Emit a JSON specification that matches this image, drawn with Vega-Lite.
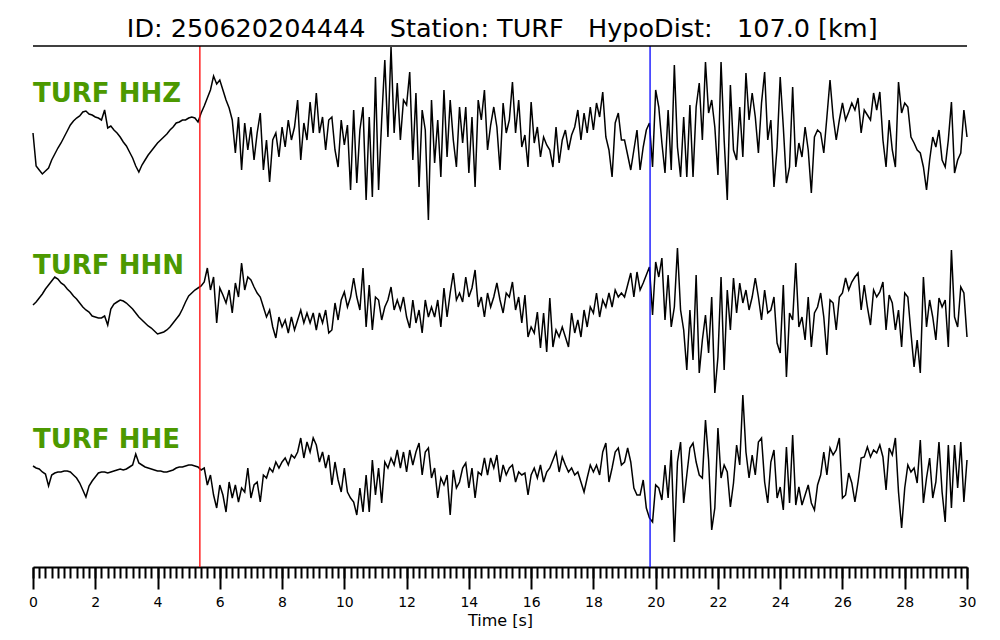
{
"$schema":"https://vega.github.io/schema/vega-lite/v6.json",
"padding":{"left":28,"right":0,"top":16,"bottom":0},
"bounds":"flush",
"spacing":0,
"title":{"text":"ID: 250620204444\u00a0\u00a0\u00a0Station: TURF\u00a0\u00a0\u00a0HypoDist:\u00a0\u00a0\u00a0107.0 [km]","fontSize":25.5,"font":"DejaVu Sans","fontWeight":"normal","color":"black","anchor":"middle","offset":2},
"datasets":{
"picks":[{"t":5.36,"p":"P"},{"t":19.82,"p":"S"}],
"Z":[{"t":0,"a":0},{"t":0.1,"a":-33},{"t":0.2,"a":-37},{"t":0.3,"a":-41},{"t":0.4,"a":-38},{"t":0.5,"a":-35},{"t":0.6,"a":-27},{"t":0.7,"a":-21},{"t":0.8,"a":-15},{"t":0.9,"a":-10},
{"t":1,"a":-4},{"t":1.1,"a":2},{"t":1.2,"a":8},{"t":1.3,"a":12},{"t":1.4,"a":15},{"t":1.5,"a":17},{"t":1.6,"a":21},{"t":1.7,"a":22},{"t":1.8,"a":19},{"t":1.9,"a":18},
{"t":2,"a":16},{"t":2.1,"a":15},{"t":2.2,"a":13},{"t":2.3,"a":23},{"t":2.4,"a":5},{"t":2.5,"a":7},{"t":2.6,"a":3},{"t":2.7,"a":0},{"t":2.8,"a":-4},{"t":2.9,"a":-9},
{"t":3,"a":-13},{"t":3.1,"a":-19},{"t":3.2,"a":-25},{"t":3.3,"a":-33},{"t":3.4,"a":-39},{"t":3.5,"a":-32},{"t":3.6,"a":-27},{"t":3.7,"a":-22},{"t":3.8,"a":-18},{"t":3.9,"a":-14},
{"t":4,"a":-10},{"t":4.1,"a":-7},{"t":4.2,"a":-4},{"t":4.3,"a":-1},{"t":4.4,"a":3},{"t":4.5,"a":6},{"t":4.6,"a":10},{"t":4.7,"a":11},{"t":4.8,"a":13},{"t":4.9,"a":13},
{"t":5,"a":15},{"t":5.1,"a":16},{"t":5.2,"a":15},{"t":5.3,"a":11},{"t":5.4,"a":20},{"t":5.5,"a":27},{"t":5.6,"a":35},{"t":5.7,"a":43},{"t":5.8,"a":57},{"t":5.9,"a":49},
{"t":6,"a":53},{"t":6.1,"a":43},{"t":6.2,"a":33},{"t":6.3,"a":25},{"t":6.4,"a":13},{"t":6.5,"a":-20},{"t":6.6,"a":16},{"t":6.7,"a":-37},{"t":6.8,"a":10},{"t":6.9,"a":-17},
{"t":7,"a":6},{"t":7.1,"a":-27},{"t":7.2,"a":0},{"t":7.3,"a":20},{"t":7.4,"a":-37},{"t":7.5,"a":-7},{"t":7.6,"a":-49},{"t":7.7,"a":-7},{"t":7.8,"a":0},{"t":7.9,"a":-24},
{"t":8,"a":6},{"t":8.1,"a":-14},{"t":8.2,"a":13},{"t":8.3,"a":-7},{"t":8.4,"a":6},{"t":8.5,"a":33},{"t":8.6,"a":-27},{"t":8.7,"a":10},{"t":8.8,"a":-7},{"t":8.9,"a":31},
{"t":9,"a":0},{"t":9.1,"a":40},{"t":9.2,"a":0},{"t":9.3,"a":16},{"t":9.4,"a":-17},{"t":9.5,"a":13},{"t":9.6,"a":16},{"t":9.7,"a":-17},{"t":9.8,"a":-34},{"t":9.9,"a":13},
{"t":10,"a":-12},{"t":10.1,"a":8},{"t":10.2,"a":-57},{"t":10.3,"a":23},{"t":10.4,"a":-50},{"t":10.5,"a":3},{"t":10.6,"a":26},{"t":10.7,"a":-67},{"t":10.8,"a":16},{"t":10.9,"a":-64},
{"t":11,"a":56},{"t":11.1,"a":-57},{"t":11.2,"a":13},{"t":11.3,"a":73},{"t":11.4,"a":-4},{"t":11.5,"a":86},{"t":11.6,"a":0},{"t":11.7,"a":50},{"t":11.8,"a":-7},{"t":11.9,"a":33},
{"t":12,"a":28},{"t":12.1,"a":61},{"t":12.2,"a":-27},{"t":12.3,"a":40},{"t":12.4,"a":-54},{"t":12.5,"a":23},{"t":12.6,"a":3},{"t":12.7,"a":-87},{"t":12.8,"a":33},{"t":12.9,"a":-30},
{"t":13,"a":13},{"t":13.1,"a":-44},{"t":13.2,"a":43},{"t":13.3,"a":-24},{"t":13.4,"a":33},{"t":13.5,"a":-7},{"t":13.6,"a":-34},{"t":13.7,"a":26},{"t":13.8,"a":-10},{"t":13.9,"a":26},
{"t":14,"a":-40},{"t":14.1,"a":16},{"t":14.2,"a":-54},{"t":14.3,"a":33},{"t":14.4,"a":13},{"t":14.5,"a":43},{"t":14.6,"a":-17},{"t":14.7,"a":8},{"t":14.8,"a":26},{"t":14.9,"a":6},
{"t":15,"a":-37},{"t":15.1,"a":30},{"t":15.2,"a":0},{"t":15.3,"a":13},{"t":15.4,"a":51},{"t":15.5,"a":0},{"t":15.6,"a":33},{"t":15.7,"a":-14},{"t":15.8,"a":-2},{"t":15.9,"a":-34},
{"t":16,"a":31},{"t":16.1,"a":-10},{"t":16.2,"a":6},{"t":16.3,"a":-24},{"t":16.4,"a":-4},{"t":16.5,"a":-12},{"t":16.6,"a":-17},{"t":16.7,"a":-34},{"t":16.8,"a":6},{"t":16.9,"a":-30},
{"t":17,"a":-7},{"t":17.1,"a":3},{"t":17.2,"a":-17},{"t":17.3,"a":-2},{"t":17.4,"a":6},{"t":17.5,"a":23},{"t":17.6,"a":-7},{"t":17.7,"a":20},{"t":17.8,"a":0},{"t":17.9,"a":26},
{"t":18,"a":3},{"t":18.1,"a":30},{"t":18.2,"a":16},{"t":18.3,"a":41},{"t":18.4,"a":-4},{"t":18.5,"a":-17},{"t":18.6,"a":-44},{"t":18.7,"a":10},{"t":18.8,"a":20},{"t":18.9,"a":-7},
{"t":19,"a":-7},{"t":19.1,"a":-22},{"t":19.2,"a":-37},{"t":19.3,"a":-17},{"t":19.4,"a":3},{"t":19.5,"a":-37},{"t":19.6,"a":-14},{"t":19.7,"a":3},{"t":19.8,"a":10},{"t":19.9,"a":-34},
{"t":20,"a":43},{"t":20.1,"a":26},{"t":20.2,"a":-10},{"t":20.3,"a":-40},{"t":20.4,"a":23},{"t":20.5,"a":-37},{"t":20.6,"a":68},{"t":20.7,"a":-14},{"t":20.8,"a":-44},{"t":20.9,"a":16},
{"t":21,"a":-44},{"t":21.1,"a":28},{"t":21.2,"a":-44},{"t":21.3,"a":26},{"t":21.4,"a":50},{"t":21.5,"a":-7},{"t":21.6,"a":71},{"t":21.7,"a":20},{"t":21.8,"a":33},{"t":21.9,"a":6},
{"t":22,"a":-42},{"t":22.1,"a":71},{"t":22.2,"a":-7},{"t":22.3,"a":-67},{"t":22.4,"a":48},{"t":22.5,"a":-17},{"t":22.6,"a":-27},{"t":22.7,"a":26},{"t":22.8,"a":-24},{"t":22.9,"a":60},
{"t":23,"a":13},{"t":23.1,"a":40},{"t":23.2,"a":16},{"t":23.3,"a":-20},{"t":23.4,"a":30},{"t":23.5,"a":61},{"t":23.6,"a":-7},{"t":23.7,"a":13},{"t":23.8,"a":-54},{"t":23.9,"a":-14},
{"t":24,"a":56},{"t":24.1,"a":6},{"t":24.2,"a":-50},{"t":24.3,"a":-34},{"t":24.4,"a":46},{"t":24.5,"a":-34},{"t":24.6,"a":-10},{"t":24.7,"a":-24},{"t":24.8,"a":6},{"t":24.9,"a":-17},
{"t":25,"a":-60},{"t":25.1,"a":-4},{"t":25.2,"a":3},{"t":25.3,"a":0},{"t":25.4,"a":-20},{"t":25.5,"a":16},{"t":25.6,"a":53},{"t":25.7,"a":16},{"t":25.8,"a":-7},{"t":25.9,"a":13},
{"t":26,"a":30},{"t":26.1,"a":13},{"t":26.2,"a":21},{"t":26.3,"a":30},{"t":26.4,"a":23},{"t":26.5,"a":35},{"t":26.6,"a":0},{"t":26.7,"a":23},{"t":26.8,"a":18},{"t":26.9,"a":13},
{"t":27,"a":40},{"t":27.1,"a":23},{"t":27.2,"a":41},{"t":27.3,"a":-7},{"t":27.4,"a":-34},{"t":27.5,"a":13},{"t":27.6,"a":-17},{"t":27.7,"a":-34},{"t":27.8,"a":51},{"t":27.9,"a":20},
{"t":28,"a":30},{"t":28.1,"a":26},{"t":28.2,"a":-4},{"t":28.3,"a":-10},{"t":28.4,"a":-17},{"t":28.5,"a":-20},{"t":28.6,"a":-34},{"t":28.7,"a":-57},{"t":28.8,"a":-27},{"t":28.9,"a":-4},
{"t":29,"a":-14},{"t":29.1,"a":3},{"t":29.2,"a":-27},{"t":29.3,"a":-34},{"t":29.4,"a":-7},{"t":29.5,"a":31},{"t":29.6,"a":-40},{"t":29.7,"a":-27},{"t":29.8,"a":-20},{"t":29.9,"a":23},
{"t":30,"a":-4}],
"N":[{"t":0,"a":2},{"t":0.1,"a":5},{"t":0.2,"a":9},{"t":0.3,"a":13},{"t":0.4,"a":18},{"t":0.5,"a":22},{"t":0.6,"a":26},{"t":0.7,"a":30},{"t":0.8,"a":28},{"t":0.9,"a":24},
{"t":1,"a":22},{"t":1.1,"a":18},{"t":1.2,"a":15},{"t":1.3,"a":11},{"t":1.4,"a":8},{"t":1.5,"a":4},{"t":1.6,"a":0},{"t":1.7,"a":-3},{"t":1.8,"a":-5},{"t":1.9,"a":-9},
{"t":2,"a":-10},{"t":2.1,"a":-11},{"t":2.2,"a":-11},{"t":2.3,"a":-9},{"t":2.4,"a":-18},{"t":2.5,"a":-2},{"t":2.6,"a":3},{"t":2.7,"a":5},{"t":2.8,"a":7},{"t":2.9,"a":6},
{"t":3,"a":4},{"t":3.1,"a":1},{"t":3.2,"a":-2},{"t":3.3,"a":-6},{"t":3.4,"a":-10},{"t":3.5,"a":-13},{"t":3.6,"a":-16},{"t":3.7,"a":-19},{"t":3.8,"a":-21},{"t":3.9,"a":-24},
{"t":4,"a":-27},{"t":4.1,"a":-26},{"t":4.2,"a":-25},{"t":4.3,"a":-23},{"t":4.4,"a":-20},{"t":4.5,"a":-16},{"t":4.6,"a":-12},{"t":4.7,"a":-8},{"t":4.8,"a":-2},{"t":4.9,"a":5},
{"t":5,"a":11},{"t":5.1,"a":14},{"t":5.2,"a":17},{"t":5.3,"a":19},{"t":5.4,"a":21},{"t":5.5,"a":25},{"t":5.6,"a":39},{"t":5.7,"a":17},{"t":5.8,"a":30},{"t":5.9,"a":-16},
{"t":6,"a":19},{"t":6.1,"a":12},{"t":6.2,"a":4},{"t":6.3,"a":17},{"t":6.4,"a":-6},{"t":6.5,"a":24},{"t":6.6,"a":10},{"t":6.7,"a":44},{"t":6.8,"a":17},{"t":6.9,"a":30},
{"t":7,"a":27},{"t":7.1,"a":20},{"t":7.2,"a":14},{"t":7.3,"a":10},{"t":7.4,"a":0},{"t":7.5,"a":-10},{"t":7.6,"a":-3},{"t":7.7,"a":-20},{"t":7.8,"a":-31},{"t":7.9,"a":-10},
{"t":8,"a":-20},{"t":8.1,"a":-13},{"t":8.2,"a":-26},{"t":8.3,"a":-10},{"t":8.4,"a":-23},{"t":8.5,"a":-13},{"t":8.6,"a":-3},{"t":8.7,"a":-16},{"t":8.8,"a":-6},{"t":8.9,"a":-16},
{"t":9,"a":-6},{"t":9.1,"a":-23},{"t":9.2,"a":-6},{"t":9.3,"a":-16},{"t":9.4,"a":-3},{"t":9.5,"a":-26},{"t":9.6,"a":-23},{"t":9.7,"a":4},{"t":9.8,"a":-13},{"t":9.9,"a":7},
{"t":10,"a":15},{"t":10.1,"a":0},{"t":10.2,"a":10},{"t":10.3,"a":29},{"t":10.4,"a":10},{"t":10.5,"a":-3},{"t":10.6,"a":39},{"t":10.7,"a":-20},{"t":10.8,"a":22},{"t":10.9,"a":-23},
{"t":11,"a":10},{"t":11.1,"a":7},{"t":11.2,"a":-13},{"t":11.3,"a":0},{"t":11.4,"a":7},{"t":11.5,"a":20},{"t":11.6,"a":-3},{"t":11.7,"a":7},{"t":11.8,"a":-3},{"t":11.9,"a":10},
{"t":12,"a":-10},{"t":12.1,"a":-21},{"t":12.2,"a":7},{"t":12.3,"a":-16},{"t":12.4,"a":-3},{"t":12.5,"a":-26},{"t":12.6,"a":7},{"t":12.7,"a":-10},{"t":12.8,"a":0},{"t":12.9,"a":-10},
{"t":13,"a":7},{"t":13.1,"a":-20},{"t":13.2,"a":19},{"t":13.3,"a":-10},{"t":13.4,"a":14},{"t":13.5,"a":34},{"t":13.6,"a":7},{"t":13.7,"a":14},{"t":13.8,"a":5},{"t":13.9,"a":30},
{"t":14,"a":10},{"t":14.1,"a":19},{"t":14.2,"a":37},{"t":14.3,"a":0},{"t":14.4,"a":10},{"t":14.5,"a":-10},{"t":14.6,"a":14},{"t":14.7,"a":0},{"t":14.8,"a":10},{"t":14.9,"a":24},
{"t":15,"a":7},{"t":15.1,"a":-6},{"t":15.2,"a":14},{"t":15.3,"a":10},{"t":15.4,"a":25},{"t":15.5,"a":-3},{"t":15.6,"a":10},{"t":15.7,"a":-16},{"t":15.8,"a":12},{"t":15.9,"a":-30},
{"t":16,"a":-20},{"t":16.1,"a":-26},{"t":16.2,"a":-5},{"t":16.3,"a":-41},{"t":16.4,"a":-6},{"t":16.5,"a":-45},{"t":16.6,"a":9},{"t":16.7,"a":-40},{"t":16.8,"a":-23},{"t":16.9,"a":-30},
{"t":17,"a":-20},{"t":17.1,"a":-30},{"t":17.2,"a":-40},{"t":17.3,"a":-6},{"t":17.4,"a":-26},{"t":17.5,"a":-13},{"t":17.6,"a":-30},{"t":17.7,"a":-3},{"t":17.8,"a":-20},{"t":17.9,"a":0},
{"t":18,"a":-6},{"t":18.1,"a":14},{"t":18.2,"a":-10},{"t":18.3,"a":7},{"t":18.4,"a":0},{"t":18.5,"a":14},{"t":18.6,"a":0},{"t":18.7,"a":17},{"t":18.8,"a":10},{"t":18.9,"a":14},
{"t":19,"a":10},{"t":19.1,"a":22},{"t":19.2,"a":34},{"t":19.3,"a":10},{"t":19.4,"a":35},{"t":19.5,"a":17},{"t":19.6,"a":24},{"t":19.7,"a":32},{"t":19.8,"a":40},{"t":19.9,"a":-8},
{"t":20,"a":45},{"t":20.1,"a":30},{"t":20.2,"a":49},{"t":20.3,"a":-13},{"t":20.4,"a":32},{"t":20.5,"a":-20},{"t":20.6,"a":0},{"t":20.7,"a":59},{"t":20.8,"a":-3},{"t":20.9,"a":-23},
{"t":21,"a":-63},{"t":21.1,"a":-3},{"t":21.2,"a":-53},{"t":21.3,"a":32},{"t":21.4,"a":-66},{"t":21.5,"a":-33},{"t":21.6,"a":-8},{"t":21.7,"a":-46},{"t":21.8,"a":10},{"t":21.9,"a":-86},
{"t":22,"a":-50},{"t":22.1,"a":30},{"t":22.2,"a":-63},{"t":22.3,"a":17},{"t":22.4,"a":-23},{"t":22.5,"a":29},{"t":22.6,"a":-6},{"t":22.7,"a":24},{"t":22.8,"a":4},{"t":22.9,"a":17},
{"t":23,"a":-3},{"t":23.1,"a":10},{"t":23.2,"a":29},{"t":23.3,"a":10},{"t":23.4,"a":-13},{"t":23.5,"a":17},{"t":23.6,"a":-6},{"t":23.7,"a":-3},{"t":23.8,"a":10},{"t":23.9,"a":-36},
{"t":24,"a":-46},{"t":24.1,"a":22},{"t":24.2,"a":-70},{"t":24.3,"a":-6},{"t":24.4,"a":-13},{"t":24.5,"a":44},{"t":24.6,"a":-20},{"t":24.7,"a":-10},{"t":24.8,"a":-33},{"t":24.9,"a":10},
{"t":25,"a":-40},{"t":25.1,"a":-6},{"t":25.2,"a":0},{"t":25.3,"a":14},{"t":25.4,"a":-10},{"t":25.5,"a":-48},{"t":25.6,"a":7},{"t":25.7,"a":4},{"t":25.8,"a":-23},{"t":25.9,"a":10},
{"t":26,"a":14},{"t":26.1,"a":29},{"t":26.2,"a":17},{"t":26.3,"a":25},{"t":26.4,"a":30},{"t":26.5,"a":34},{"t":26.6,"a":-3},{"t":26.7,"a":22},{"t":26.8,"a":0},{"t":26.9,"a":-18},
{"t":27,"a":17},{"t":27.1,"a":10},{"t":27.2,"a":15},{"t":27.3,"a":25},{"t":27.4,"a":-23},{"t":27.5,"a":12},{"t":27.6,"a":4},{"t":27.7,"a":-23},{"t":27.8,"a":-3},{"t":27.9,"a":-40},
{"t":28,"a":14},{"t":28.1,"a":10},{"t":28.2,"a":-26},{"t":28.3,"a":-60},{"t":28.4,"a":-33},{"t":28.5,"a":-66},{"t":28.6,"a":30},{"t":28.7,"a":-20},{"t":28.8,"a":7},{"t":28.9,"a":-10},
{"t":29,"a":-33},{"t":29.1,"a":9},{"t":29.2,"a":0},{"t":29.3,"a":7},{"t":29.4,"a":-40},{"t":29.5,"a":57},{"t":29.6,"a":-10},{"t":29.7,"a":-20},{"t":29.8,"a":20},{"t":29.9,"a":14},
{"t":30,"a":-30}],
"E":[{"t":0,"a":14},{"t":0.1,"a":12},{"t":0.2,"a":11},{"t":0.3,"a":8},{"t":0.4,"a":6},{"t":0.5,"a":-6},{"t":0.6,"a":5},{"t":0.7,"a":7},{"t":0.8,"a":8},{"t":0.9,"a":8},
{"t":1,"a":9},{"t":1.1,"a":9},{"t":1.2,"a":8},{"t":1.3,"a":5},{"t":1.4,"a":2},{"t":1.5,"a":-3},{"t":1.6,"a":-10},{"t":1.7,"a":-17},{"t":1.8,"a":-6},{"t":1.9,"a":-1},
{"t":2,"a":3},{"t":2.1,"a":7},{"t":2.2,"a":8},{"t":2.3,"a":8},{"t":2.4,"a":7},{"t":2.5,"a":8},{"t":2.6,"a":9},{"t":2.7,"a":10},{"t":2.8,"a":11},{"t":2.9,"a":10},
{"t":3,"a":11},{"t":3.1,"a":13},{"t":3.2,"a":15},{"t":3.3,"a":26},{"t":3.4,"a":17},{"t":3.5,"a":15},{"t":3.6,"a":13},{"t":3.7,"a":12},{"t":3.8,"a":11},{"t":3.9,"a":10},
{"t":4,"a":9},{"t":4.1,"a":9},{"t":4.2,"a":8},{"t":4.3,"a":8},{"t":4.4,"a":9},{"t":4.5,"a":10},{"t":4.6,"a":12},{"t":4.7,"a":13},{"t":4.8,"a":13},{"t":4.9,"a":14},
{"t":5,"a":15},{"t":5.1,"a":15},{"t":5.2,"a":14},{"t":5.3,"a":13},{"t":5.4,"a":10},{"t":5.5,"a":12},{"t":5.6,"a":-5},{"t":5.7,"a":5},{"t":5.8,"a":-15},{"t":5.9,"a":-28},
{"t":6,"a":-5},{"t":6.1,"a":-15},{"t":6.2,"a":-32},{"t":6.3,"a":-2},{"t":6.4,"a":-18},{"t":6.5,"a":-5},{"t":6.6,"a":-22},{"t":6.7,"a":-8},{"t":6.8,"a":-12},{"t":6.9,"a":12},
{"t":7,"a":-18},{"t":7.1,"a":-5},{"t":7.2,"a":-2},{"t":7.3,"a":-22},{"t":7.4,"a":5},{"t":7.5,"a":2},{"t":7.6,"a":12},{"t":7.7,"a":8},{"t":7.8,"a":18},{"t":7.9,"a":12},
{"t":8,"a":18},{"t":8.1,"a":22},{"t":8.2,"a":15},{"t":8.3,"a":25},{"t":8.4,"a":22},{"t":8.5,"a":28},{"t":8.6,"a":42},{"t":8.7,"a":22},{"t":8.8,"a":38},{"t":8.9,"a":28},
{"t":9,"a":42},{"t":9.1,"a":35},{"t":9.2,"a":18},{"t":9.3,"a":28},{"t":9.4,"a":12},{"t":9.5,"a":25},{"t":9.6,"a":-5},{"t":9.7,"a":18},{"t":9.8,"a":0},{"t":9.9,"a":-12},
{"t":10,"a":12},{"t":10.1,"a":-12},{"t":10.2,"a":-18},{"t":10.3,"a":-22},{"t":10.4,"a":-35},{"t":10.5,"a":-8},{"t":10.6,"a":-32},{"t":10.7,"a":5},{"t":10.8,"a":-32},{"t":10.9,"a":20},
{"t":11,"a":-15},{"t":11.1,"a":12},{"t":11.2,"a":-23},{"t":11.3,"a":18},{"t":11.4,"a":12},{"t":11.5,"a":22},{"t":11.6,"a":15},{"t":11.7,"a":30},{"t":11.8,"a":12},{"t":11.9,"a":28},
{"t":12,"a":8},{"t":12.1,"a":30},{"t":12.2,"a":15},{"t":12.3,"a":28},{"t":12.4,"a":37},{"t":12.5,"a":5},{"t":12.6,"a":28},{"t":12.7,"a":32},{"t":12.8,"a":2},{"t":12.9,"a":12},
{"t":13,"a":-18},{"t":13.1,"a":2},{"t":13.2,"a":-5},{"t":13.3,"a":5},{"t":13.4,"a":-35},{"t":13.5,"a":10},{"t":13.6,"a":-8},{"t":13.7,"a":-2},{"t":13.8,"a":12},{"t":13.9,"a":17},
{"t":14,"a":-8},{"t":14.1,"a":12},{"t":14.2,"a":-18},{"t":14.3,"a":8},{"t":14.4,"a":5},{"t":14.5,"a":22},{"t":14.6,"a":5},{"t":14.7,"a":22},{"t":14.8,"a":12},{"t":14.9,"a":25},
{"t":15,"a":-2},{"t":15.1,"a":15},{"t":15.2,"a":5},{"t":15.3,"a":12},{"t":15.4,"a":15},{"t":15.5,"a":-2},{"t":15.6,"a":8},{"t":15.7,"a":5},{"t":15.8,"a":7},{"t":15.9,"a":-15},
{"t":16,"a":5},{"t":16.1,"a":12},{"t":16.2,"a":2},{"t":16.3,"a":15},{"t":16.4,"a":-2},{"t":16.5,"a":8},{"t":16.6,"a":12},{"t":16.7,"a":20},{"t":16.8,"a":28},{"t":16.9,"a":8},
{"t":17,"a":23},{"t":17.1,"a":15},{"t":17.2,"a":8},{"t":17.3,"a":12},{"t":17.4,"a":5},{"t":17.5,"a":8},{"t":17.6,"a":-2},{"t":17.7,"a":-12},{"t":17.8,"a":2},{"t":17.9,"a":15},
{"t":18,"a":8},{"t":18.1,"a":15},{"t":18.2,"a":5},{"t":18.3,"a":28},{"t":18.4,"a":37},{"t":18.5,"a":-2},{"t":18.6,"a":12},{"t":18.7,"a":28},{"t":18.8,"a":32},{"t":18.9,"a":15},
{"t":19,"a":18},{"t":19.1,"a":32},{"t":19.2,"a":18},{"t":19.3,"a":-8},{"t":19.4,"a":-15},{"t":19.5,"a":-15},{"t":19.6,"a":0},{"t":19.7,"a":-28},{"t":19.8,"a":-38},{"t":19.9,"a":-42},
{"t":20,"a":-5},{"t":20.1,"a":-8},{"t":20.2,"a":-20},{"t":20.3,"a":15},{"t":20.4,"a":-18},{"t":20.5,"a":30},{"t":20.6,"a":-62},{"t":20.7,"a":18},{"t":20.8,"a":38},{"t":20.9,"a":-23},
{"t":21,"a":5},{"t":21.1,"a":32},{"t":21.2,"a":37},{"t":21.3,"a":18},{"t":21.4,"a":5},{"t":21.5,"a":2},{"t":21.6,"a":60},{"t":21.7,"a":20},{"t":21.8,"a":-50},{"t":21.9,"a":-28},
{"t":22,"a":52},{"t":22.1,"a":2},{"t":22.2,"a":15},{"t":22.3,"a":8},{"t":22.4,"a":-27},{"t":22.5,"a":-3},{"t":22.6,"a":35},{"t":22.7,"a":15},{"t":22.8,"a":85},{"t":22.9,"a":28},
{"t":23,"a":2},{"t":23.1,"a":25},{"t":23.2,"a":5},{"t":23.3,"a":38},{"t":23.4,"a":42},{"t":23.5,"a":-2},{"t":23.6,"a":-23},{"t":23.7,"a":18},{"t":23.8,"a":30},{"t":23.9,"a":-18},
{"t":24,"a":-7},{"t":24.1,"a":-30},{"t":24.2,"a":33},{"t":24.3,"a":-23},{"t":24.4,"a":45},{"t":24.5,"a":-25},{"t":24.6,"a":-7},{"t":24.7,"a":-25},{"t":24.8,"a":-15},{"t":24.9,"a":-5},
{"t":25,"a":-23},{"t":25.1,"a":-30},{"t":25.2,"a":-5},{"t":25.3,"a":5},{"t":25.4,"a":28},{"t":25.5,"a":5},{"t":25.6,"a":32},{"t":25.7,"a":25},{"t":25.8,"a":30},{"t":25.9,"a":42},
{"t":26,"a":-18},{"t":26.1,"a":-15},{"t":26.2,"a":7},{"t":26.3,"a":-3},{"t":26.4,"a":-22},{"t":26.5,"a":-2},{"t":26.6,"a":22},{"t":26.7,"a":23},{"t":26.8,"a":33},{"t":26.9,"a":23},
{"t":27,"a":30},{"t":27.1,"a":27},{"t":27.2,"a":35},{"t":27.3,"a":23},{"t":27.4,"a":-10},{"t":27.5,"a":32},{"t":27.6,"a":25},{"t":27.7,"a":42},{"t":27.8,"a":-12},{"t":27.9,"a":-48},
{"t":28,"a":-8},{"t":28.1,"a":15},{"t":28.2,"a":8},{"t":28.3,"a":12},{"t":28.4,"a":-3},{"t":28.5,"a":40},{"t":28.6,"a":-23},{"t":28.7,"a":2},{"t":28.8,"a":22},{"t":28.9,"a":-18},
{"t":29,"a":-2},{"t":29.1,"a":38},{"t":29.2,"a":-12},{"t":29.3,"a":-42},{"t":29.4,"a":35},{"t":29.5,"a":-28},{"t":29.6,"a":35},{"t":29.7,"a":-8},{"t":29.8,"a":38},{"t":29.9,"a":-22},
{"t":30,"a":20}]
},
"vconcat":[
{"width":934,"height":174,
"layer":[
{"data":{"name":"Z"},"mark":{"type":"line","color":"black","strokeWidth":1.5},
"encoding":{"x":{"field":"t","type":"quantitative","scale":{"domain":[0,30],"nice":false,"zero":false},"axis":null},
"y":{"field":"a","type":"quantitative","scale":{"domain":[-87,87],"nice":false,"zero":false},"axis":null}}},
{"data":{"name":"picks"},"mark":{"type":"rule","strokeWidth":1.3},
"encoding":{"x":{"field":"t","type":"quantitative","axis":null},"color":{"field":"p","type":"nominal","scale":{"domain":["P","S"],"range":["#ff0000","#0000ff"]},"legend":null}}},
{"data":{"values":[{"edge":"top"}]},"mark":{"type":"rule","color":"black","strokeWidth":1.5},
"encoding":{"y":{"datum":87,"type":"quantitative","axis":null}}},
{"data":{"values":[{"label":"TURF HHZ"}]},"mark":{"type":"text","align":"left","baseline":"alphabetic","font":"DejaVu Sans","fontWeight":"bold","fontSize":26,"color":"#4c9900"},
"encoding":{"x":{"datum":0,"type":"quantitative","axis":null},"y":{"datum":31,"type":"quantitative","axis":null},"text":{"field":"label"}}}
]},
{"width":934,"height":173,
"layer":[
{"data":{"name":"N"},"mark":{"type":"line","color":"black","strokeWidth":1.5},
"encoding":{"x":{"field":"t","type":"quantitative","scale":{"domain":[0,30],"nice":false,"zero":false},"axis":null},
"y":{"field":"a","type":"quantitative","scale":{"domain":[-86,87],"nice":false,"zero":false},"axis":null}}},
{"data":{"name":"picks"},"mark":{"type":"rule","strokeWidth":1.3},
"encoding":{"x":{"field":"t","type":"quantitative","axis":null},"color":{"field":"p","type":"nominal","scale":{"domain":["P","S"],"range":["#ff0000","#0000ff"]},"legend":null}}},
{"data":{"values":[{"label":"TURF HHN"}]},"mark":{"type":"text","align":"left","baseline":"alphabetic","font":"DejaVu Sans","fontWeight":"bold","fontSize":26,"color":"#4c9900"},
"encoding":{"x":{"datum":0,"type":"quantitative","axis":null},"y":{"datum":33,"type":"quantitative","axis":null},"text":{"field":"label"}}}
]},
{"width":934,"height":174,
"resolve":{"axis":{"x":"independent"}},
"layer":[
{"data":{"name":"E"},"mark":{"type":"line","color":"black","strokeWidth":1.5},
"encoding":{"x":{"field":"t","type":"quantitative","scale":{"domain":[0,30],"nice":false,"zero":false},
"axis":{"orient":"bottom","values":[0,2,4,6,8,10,12,14,16,18,20,22,24,26,28,30],"format":"d","tickSize":22,"tickWidth":2,"tickColor":"black","domainColor":"black","domainWidth":2,"grid":false,"labelFont":"DejaVu Sans","labelFontSize":14,"labelColor":"black","labelPadding":6,"labelFlush":false,"labelOverlap":false,"title":"Time [s]","titleFont":"DejaVu Sans","titleFontSize":16,"titleFontWeight":"normal","titleColor":"black","titlePadding":3}},
"y":{"field":"a","type":"quantitative","scale":{"domain":[-87,87],"nice":false,"zero":false},"axis":null}}},
{"data":{"name":"picks"},"mark":{"type":"rule","strokeWidth":1.3},
"encoding":{"x":{"field":"t","type":"quantitative","axis":{"orient":"bottom","values":[0,0.2,0.4,0.6,0.8,1,1.2,1.4,1.6,1.8,2,2.2,2.4,2.6,2.8,3,3.2,3.4,3.6,3.8,4,4.2,4.4,4.6,4.8,5,5.2,5.4,5.6,5.8,6,6.2,6.4,6.6,6.8,7,7.2,7.4,7.6,7.8,8,8.2,8.4,8.6,8.8,9,9.2,9.4,9.6,9.8,10,10.2,10.4,10.6,10.8,11,11.2,11.4,11.6,11.8,12,12.2,12.4,12.6,12.8,13,13.2,13.4,13.6,13.8,14,14.2,14.4,14.6,14.8,15,15.2,15.4,15.6,15.8,16,16.2,16.4,16.6,16.8,17,17.2,17.4,17.6,17.8,18,18.2,18.4,18.6,18.8,19,19.2,19.4,19.6,19.8,20,20.2,20.4,20.6,20.8,21,21.2,21.4,21.6,21.8,22,22.2,22.4,22.6,22.8,23,23.2,23.4,23.6,23.8,24,24.2,24.4,24.6,24.8,25,25.2,25.4,25.6,25.8,26,26.2,26.4,26.6,26.8,27,27.2,27.4,27.6,27.8,28,28.2,28.4,28.6,28.8,29,29.2,29.4,29.6,29.8,30],"tickSize":11,"tickWidth":2,"tickColor":"black","domain":false,"labels":false,"grid":false,"title":null}},
"color":{"field":"p","type":"nominal","scale":{"domain":["P","S"],"range":["#ff0000","#0000ff"]},"legend":null}}},
{"data":{"values":[{"label":"TURF HHE"}]},"mark":{"type":"text","align":"left","baseline":"alphabetic","font":"DejaVu Sans","fontWeight":"bold","fontSize":26,"color":"#4c9900"},
"encoding":{"x":{"datum":0,"type":"quantitative","axis":null},"y":{"datum":32,"type":"quantitative","axis":null},"text":{"field":"label"}}}
]}
],
"config":{"view":{"stroke":null},"font":"DejaVu Sans","concat":{"spacing":0}}
}
